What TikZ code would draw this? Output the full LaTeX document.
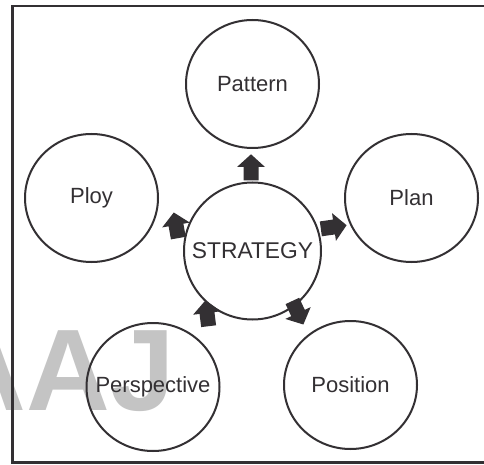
\documentclass[tikz,border=0pt]{standalone}
\usepackage{fontspec}
\setmainfont{Liberation Sans}
\usetikzlibrary{shapes.geometric}
\definecolor{inkgray}{HTML}{333033}
\definecolor{markgray}{HTML}{C4C4C4}

\begin{document}
\begin{tikzpicture}
    [x=1pt,y=1pt,
     bubble/.style={ellipse,draw=inkgray,line width=2pt,minimum width=133pt,minimum height=128pt,inner sep=0pt,text=inkgray,font=\fontsize{22}{26}\selectfont},
     hub/.style={bubble,circle,minimum size=137pt,font=\fontsize{22.8}{26}\selectfont},
     pics/blockarr/.style={code={\fill[inkgray] (-13.3,-7.5) -- (0,-7.5) -- (0,-14) -- (12.7,0) -- (0,14) -- (0,7.5) -- (-13.3,7.5) -- cycle;}}]
    \clip (0,0) rectangle (484,464);
    \fill[white] (0,0) rectangle (484,464);
    \node[anchor=base east,inner sep=0pt,text=markgray,font=\fontsize{116}{120}\selectfont\bfseries] (mark) at (175,54) {AAJ};
    \draw[inkgray,line width=2.2pt] (490,1.5) -- (12.5,1.5) -- (12.5,457.7) -- (490,457.7);
    \node[hub] (strat) at (252.5,213) {\makebox[0pt]{STRATEGY}};
    \node[bubble] (pattern) at (252.5,380) {Pattern};
    \node[bubble] (ploy) at (91.5,266) {Ploy};
    \node[bubble] (plan) at (411.5,266) {Plan};
    \node[bubble] (persp) at (153,77) {\makebox[0pt]{Perspective}};
    \node[bubble] (posn) at (350.5,79) {Position};
    \pic[rotate=90] at (251,297) {blockarr};
    \pic[rotate=8] at (334,237) {blockarr};
    \pic[rotate=100] at (176,239) {blockarr};
    \pic[rotate=97] at (207,151) {blockarr};
    \pic[rotate=-65] at (298,151) {blockarr};
  \end{tikzpicture}
\end{document}
